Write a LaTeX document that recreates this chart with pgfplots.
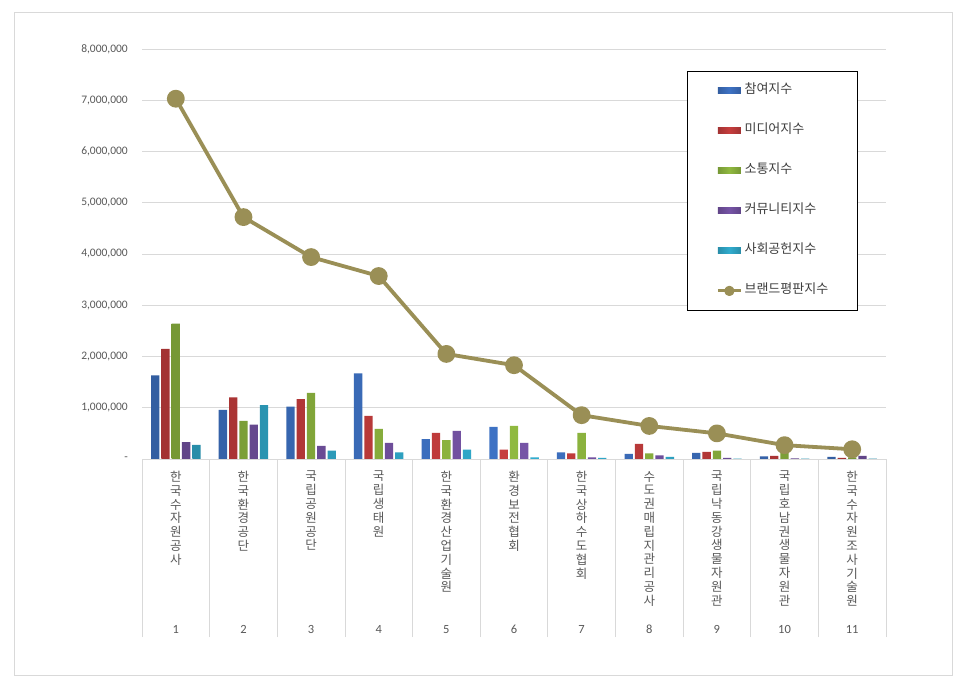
\documentclass[border=0pt]{standalone}
\usepackage{fontspec}
\usepackage{pgfplots}
\usepackage{pgfplotstable}
\pgfplotsset{compat=1.18}
\newfontfamily\kr{Noto Sans CJK KR}
\newfontfamily\cb{Carlito}
\definecolor{cA}{HTML}{3E72C4}
\definecolor{cB}{HTML}{C63D3D}
\definecolor{cC}{HTML}{90B940}
\definecolor{cD}{HTML}{7654A6}
\definecolor{cE}{HTML}{31ACCE}
\definecolor{cL}{HTML}{9A8F56}
\definecolor{gridc}{HTML}{D9D9D9}
\definecolor{txt}{HTML}{595959}
\newcommand{\clab}[2]{\parbox[t][162bp][s]{40bp}{\centering\fontsize{12.5bp}{13.8bp}\kr\selectfont #1\par\vfill{\fontsize{12.5bp}{13bp}\cb\selectfont #2}}}
\pgfplotsset{shbar/.style={ybar, bar width=8.3bp, draw=none, left color=#1!82!black, right color=#1!82!black, middle color=#1,
  legend image code/.code={\fill[#1] (0bp,-3bp) rectangle (23bp,3bp);}}}
\pgfplotstableread{
x  A       B       C       D       E       L
1  1634000 2150000 2640000 327000  275000  7030000
2  960000  1200000 745000  673000  1050000 4720000
3  1020000 1170000 1290000 255000  163000  3940000
4  1670000 843000  588000  314000  131000  3570000
5  386000  510000  366000  549000  183000  2050000
6  625000  184000  645000  316000  33000   1830000
7  130000  110000  510000  33000   20000   855000
8  100000  296000  110000  72000   40000   645000
9  118000  138000  164000  20000   5000    500000
10 50000   60000   120000  10000   5000    270000
11 40000   20000   30000   60000   5000    190000
}\data
\begin{document}
\begin{tikzpicture}
\path[use as bounding box] (0,0) rectangle (966bp,689bp);
\fill[white] (0,0) rectangle (966bp,689bp);
\draw[gridc, line width=0.8bp] (14.5bp,14bp) rectangle (952.5bp,677bp);
\begin{axis}[
  at={(142bp,230bp)}, anchor=south west,
  scale only axis, width=744bp, height=410bp,
  xmin=0.5, xmax=11.5, ymin=0, ymax=8000000,
  scaled y ticks=false,
  axis lines*=left,
  x axis line style={draw=gridc, line width=0.8bp},
  y axis line style={draw=none},
  ymajorgrids, grid style={gridc, line width=0.8bp},
  xtick={1,...,11},
  minor xtick={0.5,1.5,...,11.5},
  major tick length=0pt, minor tick length=178bp,
  tick align=outside,
  minor tick style={gridc, line width=0.8bp},
  xticklabels={
    {\clab{한\\국\\수\\자\\원\\공\\사}{1}},
    {\clab{한\\국\\환\\경\\공\\단}{2}},
    {\clab{국\\립\\공\\원\\공\\단}{3}},
    {\clab{국\\립\\생\\태\\원}{4}},
    {\clab{한\\국\\환\\경\\산\\업\\기\\술\\원}{5}},
    {\clab{환\\경\\보\\전\\협\\회}{6}},
    {\clab{한\\국\\상\\하\\수\\도\\협\\회}{7}},
    {\clab{수\\도\\권\\매\\립\\지\\관\\리\\공\\사}{8}},
    {\clab{국\\립\\낙\\동\\강\\생\\물\\자\\원\\관}{9}},
    {\clab{국\\립\\호\\남\\권\\생\\물\\자\\원\\관}{10}},
    {\clab{한\\국\\수\\자\\원\\조\\사\\기\\술\\원}{11}}},
  xticklabel style={anchor=north, inner sep=0pt, yshift=-12bp, text=txt},
  ytick={0,1000000,2000000,3000000,4000000,5000000,6000000,7000000,8000000},
  yticklabels={{-\hspace{6bp}},{1,000,000},{2,000,000},{3,000,000},{4,000,000},{5,000,000},{6,000,000},{7,000,000},{8,000,000}},
  yticklabel style={anchor=east, inner sep=0pt, xshift=-14bp, text=txt, font=\cb\fontsize{11.5bp}{13bp}\selectfont},
  legend style={at={(0.7325,0.9463)}, anchor=north west, draw=black, line width=0.8bp,
    inner xsep=29bp, inner ysep=13.5bp, row sep=28bp,
    font=\kr\fontsize{13bp}{15bp}\selectfont,
    nodes={inner sep=0pt, text height=9bp, text depth=3bp, text=txt!70!black}},
  legend cell align=left,
]
\addplot[shbar=cA, bar shift=-20.6bp] table[x=x,y=A]{\data};
\addlegendentry{\,참여지수}
\addplot[shbar=cB, bar shift=-10.3bp] table[x=x,y=B]{\data};
\addlegendentry{\,미디어지수}
\addplot[shbar=cC, bar shift=0bp] table[x=x,y=C]{\data};
\addlegendentry{\,소통지수}
\addplot[shbar=cD, bar shift=10.3bp] table[x=x,y=D]{\data};
\addlegendentry{\,커뮤니티지수}
\addplot[shbar=cE, bar shift=20.6bp] table[x=x,y=E]{\data};
\addlegendentry{\,사회공헌지수}
\addplot[cL, line width=3.8bp, line join=round, mark=*, mark size=7bp, mark options={fill=cL, draw=none},
  legend image code/.code={\draw[cL, line width=3bp] (0bp,0bp) -- (23bp,0bp); \fill[cL] (11.5bp,0bp) circle (3.2bp);}] table[x=x,y=L]{\data};
\addlegendentry{\,브랜드평판지수}
\end{axis}
\end{tikzpicture}
\end{document}
